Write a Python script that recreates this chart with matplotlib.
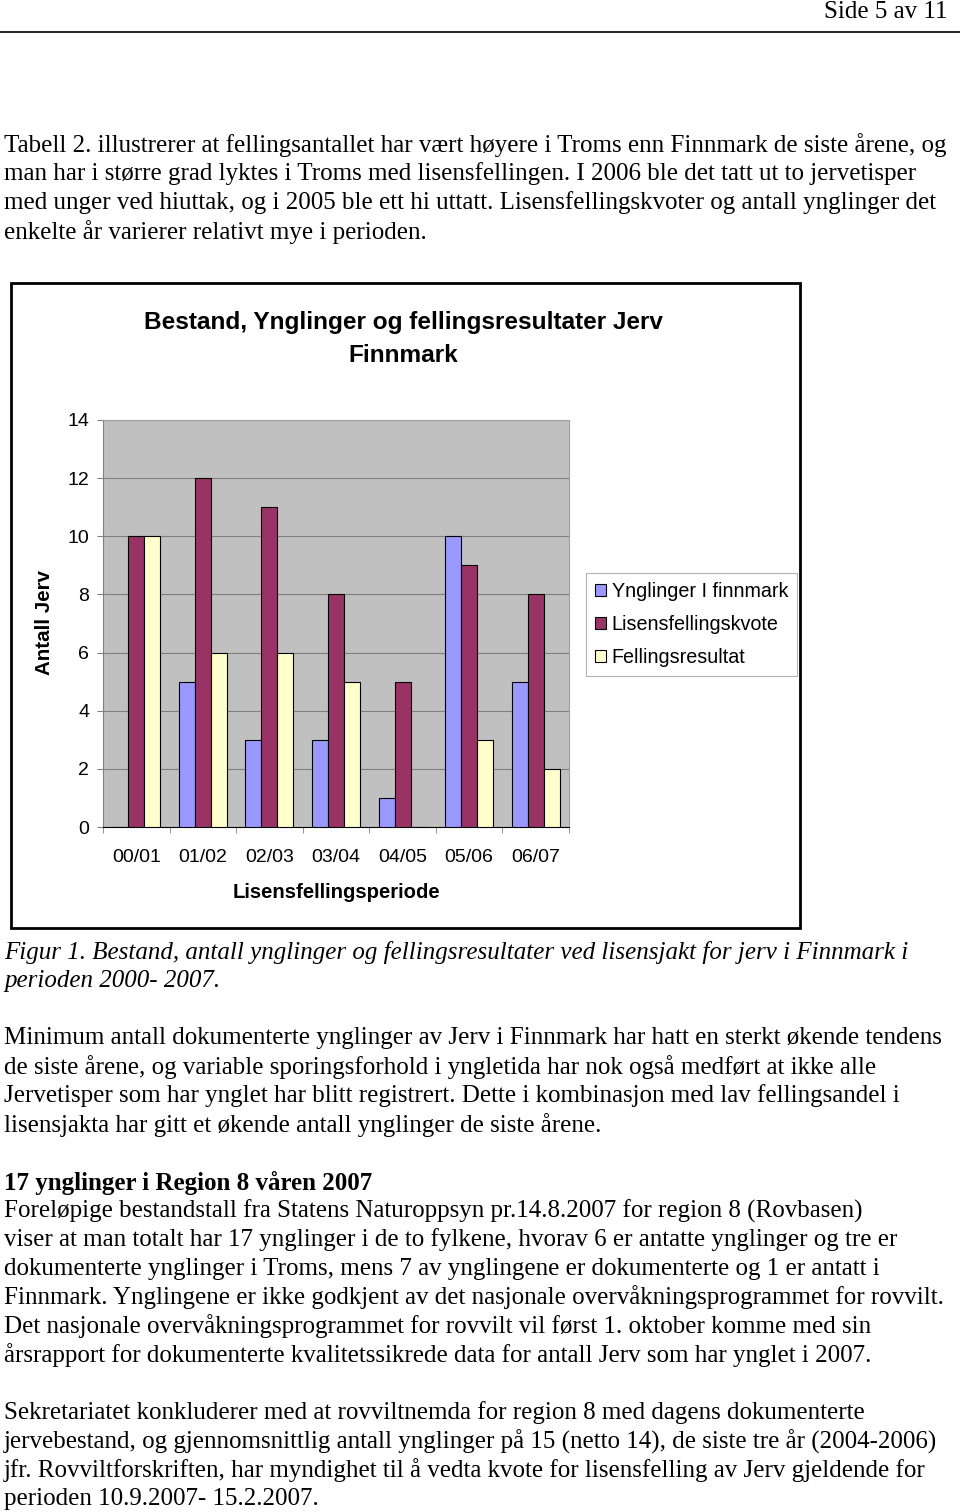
import matplotlib
matplotlib.use("Agg")
import matplotlib.pyplot as plt
import numpy as np
from matplotlib.patches import Rectangle
from matplotlib.ticker import FixedLocator

# Data
perioder = ["00/01", "01/02", "02/03", "03/04", "04/05", "05/06", "06/07"]
ynglinger = [0, 5, 3, 3, 1, 10, 5]
kvote = [10, 12, 11, 8, 5, 9, 8]
felling = [10, 6, 6, 5, 0, 3, 2]
serier = ["Ynglinger I finnmark", "Lisensfellingskvote", "Fellingsresultat"]
farger = ["#9999FF", "#993366", "#FFFFCC"]

W, H = 960, 1512
fig = plt.figure(figsize=(W / 100, H / 100), dpi=100)

def px(x, y):
    return x / W, 1 - y / H

serif = "Liberation Serif"
sans = "Liberation Sans"
fs = 18

# page header
fig.text(*px(947, 12), "Side 5 av 11", family=serif, fontsize=fs, ha="right", va="center")
fig.add_artist(plt.Line2D([0, 1], [1 - 32 / H] * 2, color="black", lw=1.2))

tekst_topp = [
    "Tabell 2. illustrerer at fellingsantallet har vært høyere i Troms enn Finnmark de siste årene, og",
    "man har i større grad lyktes i Troms med lisensfellingen. I 2006 ble det tatt ut to jervetisper",
    "med unger ved hiuttak, og i 2005 ble ett hi uttatt. Lisensfellingskvoter og antall ynglinger det",
    "enkelte år varierer relativt mye i perioden.",
]
for i, linje in enumerate(tekst_topp):
    fig.text(*px(4, 145 + 29 * i), linje, family=serif, fontsize=fs, va="center")

# chart frame
fig.add_artist(Rectangle(px(11, 928), 789 / W, 645 / H, transform=fig.transFigure,
                         fill=False, edgecolor="black", lw=2))

fig.text(*px(403, 322), "Bestand, Ynglinger og fellingsresultater Jerv", family=sans,
         fontsize=17.6, fontweight="bold", ha="center", va="center")
fig.text(*px(403, 355), "Finnmark", family=sans, fontsize=17.6, fontweight="bold",
         ha="center", va="center")

ax = fig.add_axes([103 / W, 1 - 827 / H, 466 / W, 407 / H])
ax.set_facecolor("#C0C0C0")
x = np.arange(len(perioder))
bw = 0.24
for k, (verdier, farge, navn) in enumerate(zip([ynglinger, kvote, felling], farger, serier)):
    ax.bar(x + (k - 1) * bw, verdier, bw, color=farge, edgecolor="black", lw=0.8,
           label=navn, zorder=3)

ax.set_xlim(-0.5, len(perioder) - 0.5)
ax.set_ylim(0, 14)
ax.set_yticks(range(0, 15, 2))
ax.set_xticks(x)
ax.set_xticklabels(perioder)
ax.xaxis.set_minor_locator(FixedLocator(np.arange(-0.5, len(perioder), 1)))
ax.tick_params(axis="x", which="major", length=0, pad=16, labelsize=14)
ax.tick_params(axis="x", which="minor", length=4.5, direction="out", color="#808080")
ax.tick_params(axis="y", length=4.5, color="#808080", pad=5.5, labelsize=14)
for lab in ax.get_xticklabels() + ax.get_yticklabels():
    lab.set_family(sans)
ax.grid(axis="y", color="#808080", lw=0.8, zorder=1)
for s in ["top", "right"]:
    ax.spines[s].set_color("#A0A0A0")
ax.spines["left"].set_color("#808080")
ax.spines["bottom"].set_color("black")

fig.text(*px(45, 623), "Antall Jerv", family=sans, fontsize=14.8, fontweight="bold",
         rotation=90, ha="center", va="center")
fig.text(*px(336, 892), "Lisensfellingsperiode", family=sans, fontsize=14.6,
         fontweight="bold", ha="center", va="center")

leg = ax.legend(loc="upper left", bbox_to_anchor=px(586, 573), bbox_transform=fig.transFigure,
                prop={"family": sans, "size": 14.2}, frameon=True, fancybox=False,
                handlelength=0.55, handleheight=0.55, handletextpad=0.3, labelspacing=0.72,
                borderpad=0.45, borderaxespad=0)
leg.get_frame().set_edgecolor("#A0A0A0")
leg.get_frame().set_linewidth(0.8)

# caption
fig.text(*px(4, 952), "Figur 1. Bestand, antall ynglinger og fellingsresultater ved lisensjakt for jerv i Finnmark i",
         family=serif, fontsize=fs, style="italic", va="center")
fig.text(*px(4, 981), "perioden 2000- 2007.", family=serif, fontsize=fs, style="italic", va="center")

avsnitt1 = [
    "Minimum antall dokumenterte ynglinger av Jerv i Finnmark har hatt en sterkt økende tendens",
    "de siste årene, og variable sporingsforhold i yngletida har nok også medført at ikke alle",
    "Jervetisper som har ynglet har blitt registrert. Dette i kombinasjon med lav fellingsandel i",
    "lisensjakta har gitt et økende antall ynglinger de siste årene.",
]
for i, linje in enumerate(avsnitt1):
    fig.text(*px(4, 1038 + 29 * i), linje, family=serif, fontsize=fs, va="center")

fig.text(*px(4, 1183), "17 ynglinger i Region 8 våren 2007", family=serif, fontsize=fs,
         fontweight="bold", va="center")
avsnitt2 = [
    "Foreløpige bestandstall fra Statens Naturoppsyn pr.14.8.2007 for region 8 (Rovbasen)",
    "viser at man totalt har 17 ynglinger i de to fylkene, hvorav 6 er antatte ynglinger og tre er",
    "dokumenterte ynglinger i Troms, mens 7 av ynglingene er dokumenterte og 1 er antatt i",
    "Finnmark. Ynglingene er ikke godkjent av det nasjonale overvåkningsprogrammet for rovvilt.",
    "Det nasjonale overvåkningsprogrammet for rovvilt vil først 1. oktober komme med sin",
    "årsrapport for dokumenterte kvalitetssikrede data for antall Jerv som har ynglet i 2007.",
]
for i, linje in enumerate(avsnitt2):
    fig.text(*px(4, 1211 + 28.8 * i), linje, family=serif, fontsize=fs, va="center")

avsnitt3 = [
    "Sekretariatet konkluderer med at rovviltnemda for region 8 med dagens dokumenterte",
    "jervebestand, og gjennomsnittlig antall ynglinger på 15 (netto 14), de siste tre år (2004-2006)",
    "jfr. Rovviltforskriften, har myndighet til å vedta kvote for lisensfelling av Jerv gjeldende for",
    "perioden 10.9.2007- 15.2.2007.",
]
for i, linje in enumerate(avsnitt3):
    fig.text(*px(4, 1413 + 28.5 * i), linje, family=serif, fontsize=fs, va="center")

fig.savefig("out.png", dpi=100)
